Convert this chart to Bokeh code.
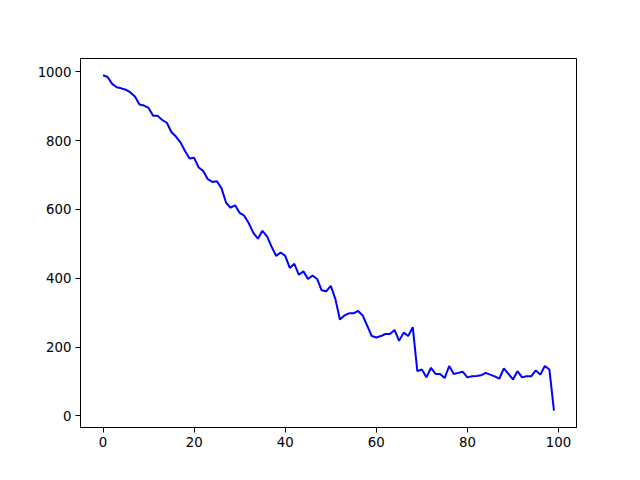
from bokeh.plotting import figure
from bokeh.models import FixedTicker, Range1d
from bokeh.embed import file_html
from bokeh.resources import INLINE

x_values = list(range(100))
y_values = [990, 985, 965, 955, 952, 948, 940, 928, 905, 902,
            895, 872, 872, 860, 852, 825, 812, 795, 770, 748,
            750, 722, 712, 688, 680, 682, 662, 620, 605, 612,
            590, 582, 560, 532, 515, 538, 522, 492, 465, 475,
            465, 430, 442, 410, 420, 398, 408, 398, 365, 362,
            378, 340, 280, 292, 298, 298, 305, 292, 262, 232,
            228, 232, 238, 238, 250, 218, 242, 232, 258, 130,
            135, 112, 140, 122, 122, 110, 145, 122, 125, 128,
            112, 115, 116, 118, 125, 120, 115, 108, 138, 122,
            106, 130, 112, 115, 115, 132, 120, 145, 135, 15]
x_ticks = [0, 20, 40, 60, 80, 100]
y_ticks = [0, 200, 400, 600, 800, 1000]

xmin, xmax = min(x_values), max(x_values)
ymin, ymax = min(y_values), max(y_values)
xpad = (xmax - xmin) * 0.05
ypad = (ymax - ymin) * 0.05

p = figure(output_backend="svg", toolbar_location=None,
           frame_width=496, frame_height=369,
           min_border_left=80, min_border_right=48,
           min_border_top=58, min_border_bottom=37,
           x_range=Range1d(xmin - xpad, xmax + xpad),
           y_range=Range1d(ymin - ypad, ymax + ypad))
p.line(x_values, y_values, line_color="blue", line_width=2)

p.xgrid.visible = False
p.ygrid.visible = False
p.outline_line_color = "black"
p.outline_line_width = 1
p.outline_line_alpha = 1
p.background_fill_color = "white"
p.border_fill_color = "white"
p.xaxis.ticker = FixedTicker(ticks=x_ticks)
p.yaxis.ticker = FixedTicker(ticks=y_ticks)
for ax in (p.xaxis[0], p.yaxis[0]):
    ax.major_label_text_font = "DejaVu Sans"
    ax.major_label_text_font_size = "13.3px"
    ax.major_label_text_color = "black"
    ax.axis_line_color = "black"
    ax.major_tick_line_color = "black"
    ax.major_tick_out = 5
    ax.major_tick_in = 0
    ax.minor_tick_line_color = None
    ax.major_label_standoff = 4
p.yaxis.major_label_orientation = "horizontal"

open("out.html", "w").write(file_html(p, INLINE))
